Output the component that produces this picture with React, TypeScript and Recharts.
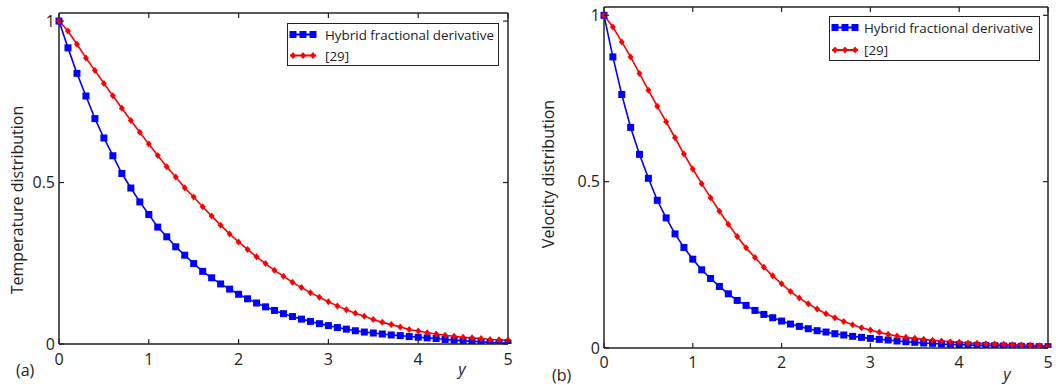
import React from "react";
import { LineChart, Line, XAxis, YAxis, Legend, Label, ReferenceArea } from "recharts";

const yGrid = [
  0, 0.1, 0.2, 0.3, 0.4, 0.5, 0.6, 0.7, 0.8, 0.9,
  1.0, 1.1, 1.2, 1.3, 1.4, 1.5, 1.6, 1.7, 1.8, 1.9,
  2.0, 2.1, 2.2, 2.3, 2.4, 2.5, 2.6, 2.7, 2.8, 2.9,
  3.0, 3.1, 3.2, 3.3, 3.4, 3.5, 3.6, 3.7, 3.8, 3.9,
  4.0, 4.1, 4.2, 4.3, 4.4, 4.5, 4.6, 4.7, 4.8, 4.9, 5.0,
];

const tempHybrid = [
  1.0, 0.917, 0.838, 0.768, 0.698, 0.638, 0.583, 0.528, 0.483, 0.44,
  0.401, 0.362, 0.332, 0.301, 0.275, 0.249, 0.225, 0.205, 0.186, 0.17,
  0.154, 0.14, 0.127, 0.115, 0.104, 0.094, 0.085, 0.077, 0.07, 0.063,
  0.057, 0.051, 0.046, 0.041, 0.037, 0.034, 0.031, 0.028, 0.026, 0.023,
  0.021, 0.019, 0.017, 0.014, 0.012, 0.01, 0.008, 0.007, 0.005, 0.004, 0.003,
];

const tempRef29 = [
  1.0, 0.969, 0.928, 0.886, 0.847, 0.807, 0.769, 0.73, 0.692, 0.656,
  0.619, 0.584, 0.549, 0.517, 0.484, 0.455, 0.425, 0.396, 0.368, 0.341,
  0.316, 0.293, 0.27, 0.249, 0.228, 0.21, 0.191, 0.175, 0.159, 0.145,
  0.131, 0.118, 0.106, 0.095, 0.086, 0.076, 0.067, 0.06, 0.053, 0.045,
  0.04, 0.035, 0.031, 0.027, 0.024, 0.021, 0.019, 0.017, 0.014, 0.013, 0.012,
];

const velHybrid = [
  1.0, 0.875, 0.762, 0.663, 0.582, 0.51, 0.444, 0.391, 0.343, 0.302,
  0.267, 0.235, 0.209, 0.185, 0.163, 0.143, 0.128, 0.113, 0.101, 0.091,
  0.081, 0.072, 0.065, 0.058, 0.052, 0.048, 0.043, 0.039, 0.035, 0.032,
  0.029, 0.026, 0.024, 0.021, 0.019, 0.017, 0.015, 0.014, 0.012, 0.011,
  0.01, 0.009, 0.008, 0.008, 0.007, 0.006, 0.006, 0.005, 0.005, 0.004, 0.004,
];

const velRef29 = [
  1.0, 0.965, 0.92, 0.875, 0.825, 0.775, 0.727, 0.68, 0.632, 0.583,
  0.538, 0.494, 0.452, 0.411, 0.372, 0.335, 0.301, 0.272, 0.243, 0.217,
  0.193, 0.17, 0.15, 0.133, 0.117, 0.103, 0.091, 0.08, 0.07, 0.061,
  0.054, 0.047, 0.041, 0.036, 0.032, 0.029, 0.026, 0.023, 0.021, 0.019,
  0.017, 0.015, 0.014, 0.013, 0.012, 0.011, 0.01, 0.009, 0.008, 0.007, 0.006,
];

const xTicks = [0, 1, 2, 3, 4, 5];
const yTicks = [0, 0.5, 1];
const xDomain = [0, 5];
const yDomain = [0, 1.025];
const seriesNames = ["Hybrid fractional derivative", "[29]"];
const yTitles = ["Temperature distribution", "Velocity distribution"];
const panelTags = ["(a)", "(b)"];
const xTitle = "y";

const BLUE = "#0000ff";
const RED = "#ff0000";
const AXIS = "#222222";
const FONT = "'Open Sans', 'Noto Sans', sans-serif";

const squareDot = (props: any) => {
  const { cx, cy, index } = props;
  if (cx == null || cy == null) return <g key={`s${index}`} />;
  return <rect key={`s${index}`} x={cx - 3.5} y={cy - 3.5} width={7} height={7} fill={BLUE} />;
};

const diamondDot = (props: any) => {
  const { cx, cy, index } = props;
  if (cx == null || cy == null) return <g key={`d${index}`} />;
  return (
    <polygon
      key={`d${index}`}
      points={`${cx},${cy - 3.5} ${cx + 3},${cy} ${cx},${cy + 3.5} ${cx - 3},${cy}`}
      fill={RED}
    />
  );
};

const fmt = (v: number) => (v === 0.5 ? "0.5" : String(v));

const BottomTick = (labelOffset: number) => (props: any) => {
  const { x, y, payload } = props;
  return (
    <g>
      <line x1={x} y1={y} x2={x} y2={y - 5} stroke={AXIS} strokeWidth={1.2} />
      <text x={x} y={y + labelOffset} textAnchor="middle" fontSize={16} fontFamily={FONT} fill="#222">
        {fmt(payload.value)}
      </text>
    </g>
  );
};

const LeftTick = (props: any) => {
  const { x, y, payload } = props;
  return (
    <g>
      <line x1={x} y1={y} x2={x + 5} y2={y} stroke={AXIS} strokeWidth={1.2} />
      <text x={x - 4} y={y + 5.7} textAnchor="end" fontSize={16} fontFamily={FONT} fill="#222">
        {fmt(payload.value)}
      </text>
    </g>
  );
};

const TopTick = (props: any) => {
  const { x, y } = props;
  return <line x1={x} y1={y} x2={x} y2={y + 5} stroke={AXIS} strokeWidth={1.2} />;
};

const RightTick = (props: any) => {
  const { x, y } = props;
  return <line x1={x} y1={y} x2={x - 5} y2={y} stroke={AXIS} strokeWidth={1.2} />;
};

const LegendBox = (rowTop: number, rowGap: number, textLeft: number) => () => (
  <div
    style={{
      border: `1px solid ${AXIS}`,
      background: "#fff",
      position: "relative",
      height: "100%",
      boxSizing: "border-box",
      fontFamily: FONT,
      fontSize: 13.4,
      color: "#222",
    }}
  >
    <svg width={32} height={60} style={{ position: "absolute", left: 0, top: 0 }}>
      <line x1={2} y1={rowTop} x2={28} y2={rowTop} stroke={BLUE} strokeWidth={2} />
      {[5, 15, 25].map((cx) => (
        <rect key={cx} x={cx - 3.5} y={rowTop - 3.5} width={7} height={7} fill={BLUE} />
      ))}
      <line x1={2} y1={rowTop + rowGap} x2={28} y2={rowTop + rowGap} stroke={RED} strokeWidth={2} />
      {[5, 15, 25].map((cx) => (
        <polygon
          key={cx}
          points={`${cx},${rowTop + rowGap - 3.5} ${cx + 3},${rowTop + rowGap} ${cx},${rowTop + rowGap + 3.5} ${cx - 3},${rowTop + rowGap}`}
          fill={RED}
        />
      ))}
    </svg>
    <div style={{ position: "absolute", left: textLeft, top: rowTop - 10, whiteSpace: "nowrap", lineHeight: "20px" }}>
      {seriesNames[0]}
    </div>
    <div style={{ position: "absolute", left: textLeft, top: rowTop + rowGap - 10, whiteSpace: "nowrap", lineHeight: "20px" }}>
      {seriesNames[1]}
    </div>
  </div>
);

type PanelProps = {
  hybrid: number[];
  ref29: number[];
  width: number;
  margin: { top: number; right: number; bottom: number; left: number };
  yAxisWidth: number;
  xAxisHeight: number;
  tickLabelOffset: number;
  yTitle: string;
  yTitleX: number;
  yTitleY: number;
  legendPos: { left: number; top: number; width: number; height: number };
  legendRowTop: number;
  legendRowGap: number;
  legendTextLeft: number;
  tag: string;
  tagPos: { x: number; y: number };
  xTitlePos: { x: number; y: number };
};

const Panel = (p: PanelProps) => {
  const data = yGrid.map((x, i) => ({ x, hybrid: p.hybrid[i], ref29: p.ref29[i] }));
  return (
    <LineChart width={p.width} height={385} data={data} margin={p.margin}>
      <XAxis
        dataKey="x"
        type="number"
        domain={xDomain}
        ticks={xTicks}
        interval={0}
        tickLine={false}
        tickSize={0}
        tickMargin={0}
        height={p.xAxisHeight}
        stroke={AXIS}
        axisLine={{ stroke: AXIS, strokeWidth: 1 }}
        tick={BottomTick(p.tickLabelOffset)}
      >
        <Label
          content={() => (
            <g>
              <text x={p.tagPos.x} y={p.tagPos.y} fontSize={16} fontFamily={FONT} fill="#222">
                {p.tag}
              </text>
              <text x={p.xTitlePos.x} y={p.xTitlePos.y} fontSize={16} fontStyle="italic" fontFamily={FONT} fill="#222" textAnchor="middle">
                {xTitle}
              </text>
            </g>
          )}
        />
      </XAxis>
      <XAxis
        xAxisId="top"
        orientation="top"
        dataKey="x"
        type="number"
        domain={xDomain}
        ticks={xTicks}
        interval={0}
        tickLine={false}
        tickSize={0}
        tickMargin={0}
        height={1}
        stroke={AXIS}
        axisLine={{ stroke: AXIS, strokeWidth: 1 }}
        allowDataOverflow
        tick={TopTick}
      />
      <YAxis
        type="number"
        domain={yDomain}
        ticks={yTicks}
        interval={0}
        tickLine={false}
        tickSize={0}
        tickMargin={0}
        width={p.yAxisWidth}
        stroke={AXIS}
        axisLine={{ stroke: AXIS, strokeWidth: 1 }}
        allowDataOverflow
        tick={LeftTick}
      >
        <Label
          content={() => (
            <text
              x={p.yTitleX}
              y={p.yTitleY}
              transform={`rotate(-90, ${p.yTitleX}, ${p.yTitleY})`}
              textAnchor="middle"
              fontSize={16}
              fontFamily={FONT}
              fill="#222"
            >
              {p.yTitle}
            </text>
          )}
        />
      </YAxis>
      <YAxis
        yAxisId="right"
        orientation="right"
        type="number"
        domain={yDomain}
        ticks={yTicks}
        interval={0}
        tickLine={false}
        tickSize={0}
        tickMargin={0}
        width={1}
        stroke={AXIS}
        axisLine={{ stroke: AXIS, strokeWidth: 1 }}
        allowDataOverflow
        tick={RightTick}
      />
      <ReferenceArea
        x1={xDomain[0]}
        x2={xDomain[1]}
        y1={yDomain[0]}
        y2={yDomain[1]}
        fill="none"
        fillOpacity={0}
        stroke={AXIS}
        strokeWidth={1}
        ifOverflow="extendDomain"
      />
      <Legend
        layout="horizontal"
        verticalAlign="middle"
        align="center"
        content={LegendBox(p.legendRowTop, p.legendRowGap, p.legendTextLeft)}
        wrapperStyle={{
          position: "absolute",
          left: p.legendPos.left,
          top: p.legendPos.top,
          width: p.legendPos.width,
          height: p.legendPos.height,
        }}
      />
      <Line
        dataKey="hybrid"
        name={seriesNames[0]}
        stroke={BLUE}
        strokeWidth={1.6}
        dot={squareDot}
        activeDot={false}
        isAnimationActive={false}
      />
      <Line
        dataKey="ref29"
        name={seriesNames[1]}
        stroke={RED}
        strokeWidth={1.6}
        dot={diamondDot}
        activeDot={false}
        isAnimationActive={false}
      />
    </LineChart>
  );
};

export default function App() {
  return (
    <div style={{ position: "fixed", left: 0, top: 0, width: 1056, height: 385, background: "#fff" }}>
      <div style={{ position: "absolute", left: 0, top: 0 }}>
        <Panel
          hybrid={tempHybrid}
          ref29={tempRef29}
          width={530}
          margin={{ top: 12, right: 21, bottom: 0, left: 0 }}
          yAxisWidth={59}
          xAxisHeight={41}
          tickLabelOffset={21}
          yTitle={yTitles[0]}
          yTitleX={22.5}
          yTitleY={200}
          legendPos={{ left: 287, top: 23, width: 212, height: 43 }}
          legendRowTop={10.5}
          legendRowGap={21}
          legendTextLeft={37}
          tag={panelTags[0]}
          tagPos={{ x: 16, y: 376 }}
          xTitlePos={{ x: 462, y: 375 }}
        />
      </div>
      <div style={{ position: "absolute", left: 530, top: 0 }}>
        <Panel
          hybrid={velHybrid}
          ref29={velRef29}
          width={526}
          margin={{ top: 6, right: 7, bottom: 0, left: 0 }}
          yAxisWidth={74}
          xAxisHeight={37}
          tickLabelOffset={19.5}
          yTitle={yTitles[1]}
          yTitleX={24}
          yTitleY={174}
          legendPos={{ left: 299, top: 16, width: 211, height: 45 }}
          legendRowTop={10.5}
          legendRowGap={22.5}
          legendTextLeft={34}
          tag={panelTags[1]}
          tagPos={{ x: 22, y: 381 }}
          xTitlePos={{ x: 477, y: 380 }}
        />
      </div>
    </div>
  );
}
